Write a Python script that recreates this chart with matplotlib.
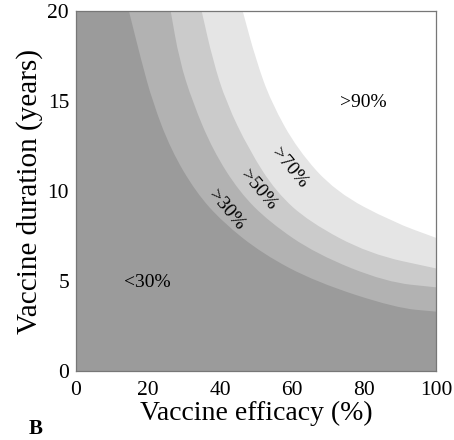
import matplotlib
matplotlib.use("Agg")
import matplotlib.pyplot as plt
from matplotlib.path import Path
from matplotlib.patches import PathPatch

# boundary curves: (efficacy %, duration years)
b30_x = [14.7, 18.1, 21.3, 26.4, 33.3, 40.7, 51.9, 66.7, 88.9, 100]
b30_y = [20, 17.28, 14.94, 12.28, 9.94, 8.28, 6.5, 4.94, 3.5, 3.3]

b50_x = [26.3, 28.7, 32.4, 38.0, 45.4, 53.7, 66.7, 86.1, 100]
b50_y = [20, 17.28, 14.94, 12.28, 9.94, 8.28, 6.5, 4.94, 4.65]

b70_x = [34.9, 38.0, 41.7, 48.1, 55.6, 64.8, 81.5, 100]
b70_y = [20, 17.28, 14.94, 12.28, 9.94, 8.28, 6.5, 5.7]

b90_x = [46.3, 50.0, 54.2, 61.6, 72.2, 88.0, 100]
b90_y = [20, 17.28, 14.94, 12.28, 9.94, 8.28, 7.4]

boundaries = [(b30_x, b30_y), (b50_x, b50_y), (b70_x, b70_y), (b90_x, b90_y)]
shades = ["#b2b2b2", "#cbcbcb", "#e5e5e5", "#ffffff"]
base_shade = "#9b9b9b"

labels = ["<30%", ">30%", ">50%", ">70%", ">90%"]
label_x = [19.9, 41.9, 50.6, 59.2, 79.7]
label_y = [4.9, 8.94, 10.05, 11.3, 14.9]
label_rot = [0, -50, -50, -50, 0]


def smooth_region(xs, ys):
    # quadratic b-spline through the read points, closed via top-right corner
    pts = list(zip(xs, ys))
    verts = [pts[0]]
    codes = [Path.MOVETO]
    mid = lambda a, b: ((a[0] + b[0]) / 2, (a[1] + b[1]) / 2)
    verts.append(mid(pts[0], pts[1]))
    codes.append(Path.LINETO)
    for i in range(1, len(pts) - 1):
        verts += [pts[i], mid(pts[i], pts[i + 1])]
        codes += [Path.CURVE3, Path.CURVE3]
    verts += [pts[-1], (100, 20), pts[0]]
    codes += [Path.LINETO, Path.LINETO, Path.CLOSEPOLY]
    return Path(verts, codes)


plt.rcParams["font.family"] = ["Liberation Serif", "DejaVu Serif"]

fig = plt.figure(figsize=(4.54, 4.40), dpi=100)
ax = fig.add_axes([0.1674, 0.1568, 0.793, 0.818])

ax.set_facecolor(base_shade)
for (bx, by), col in zip(boundaries, shades):
    ax.add_patch(PathPatch(smooth_region(bx, by), facecolor=col, lw=0))

for t, x, y, r in zip(labels, label_x, label_y, label_rot):
    ax.text(x, y, t, ha="center", va="center", rotation=r, fontsize=14,
            rotation_mode="anchor")

ax.set_xlim(0, 100)
ax.set_ylim(0, 20)
ax.set_xticks([0, 20, 40, 60, 80, 100])
ax.set_yticks([0, 5, 10, 15, 20])
ax.tick_params(length=0, labelsize=15.5, pad=7)
ax.tick_params(axis="y", pad=5)
for s in ax.spines.values():
    s.set_color("#777777")
    s.set_linewidth(0.9)

ax.set_xlabel("Vaccine efficacy (%)", fontsize=20, labelpad=1)
ax.set_ylabel("Vaccine duration (years)", fontsize=21, labelpad=3)

fig.text(0.062, 0.002, "B", fontsize=15, fontweight="bold", va="bottom")

fig.savefig("out.png", dpi=100)
